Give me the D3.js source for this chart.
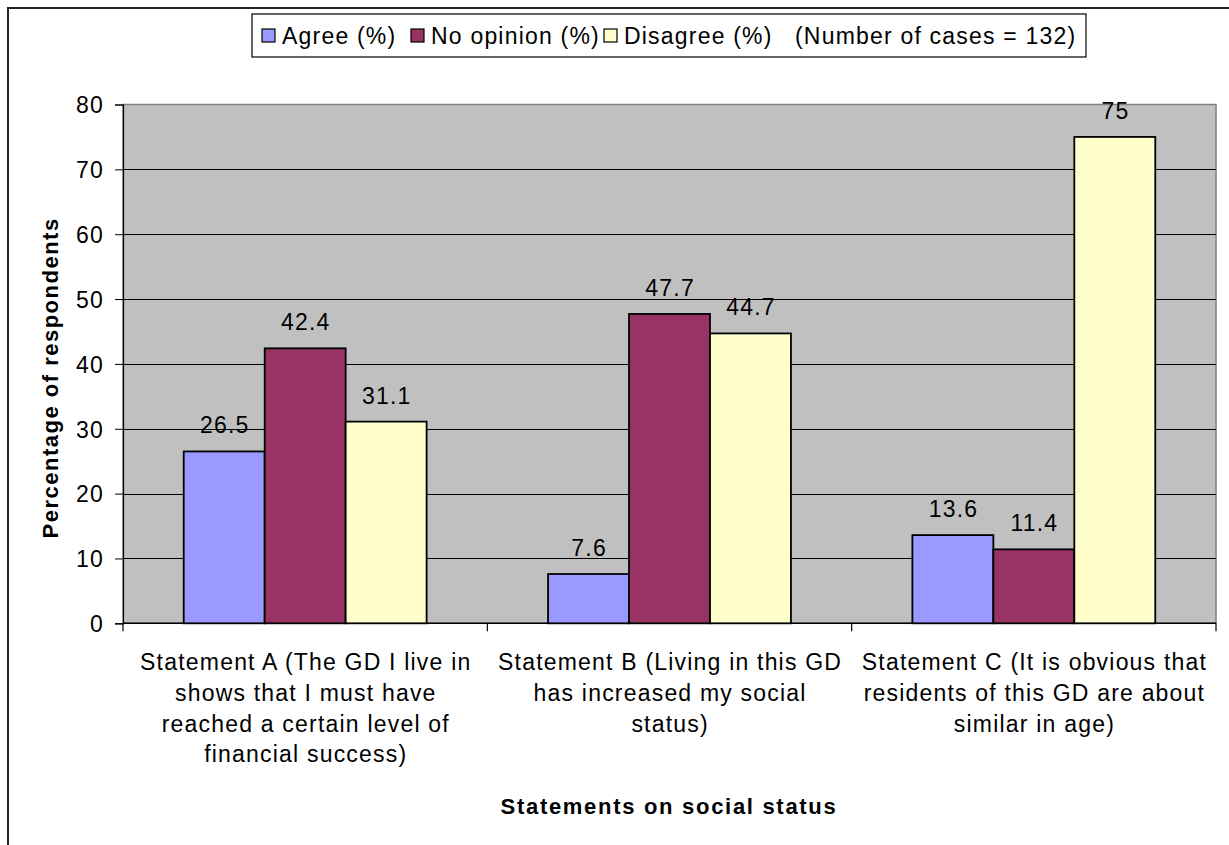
<!DOCTYPE html>
<html>
<head>
<meta charset="utf-8">
<script src="https://cdn.jsdelivr.net/npm/d3@7"></script>
<style>
  html, body { margin: 0; padding: 0; background: #fff; }
  svg { display: block; }
  text { font-family: Arial, "Liberation Sans", sans-serif; fill: #000; }
</style>
</head>
<body>
<svg id="chart" width="1229" height="845"></svg>
<script>
// Survey responses on social status statements (Number of cases = 132)
const categories = ["Statement A", "Statement B", "Statement C"];
const categoryLabels = [
  ["Statement A (The GD I live in", "shows that I must have", "reached a certain level of", "financial success)"],
  ["Statement B (Living in this GD", "has increased my social", "status)"],
  ["Statement C (It is obvious that", "residents of this GD are about", "similar in age)"]
];
const seriesNames = ["Agree (%)", "No opinion (%)", "Disagree (%)"];
const agree = [26.5, 7.6, 13.6];
const noOpinion = [42.4, 47.7, 11.4];
const disagree = [31.1, 44.7, 75];
const yTicks = [0, 10, 20, 30, 40, 50, 60, 70, 80];
const legendNote = "(Number of cases = 132)";
const yTitle = "Percentage of respondents";
const xTitle = "Statements on social status";

const seriesValues = [agree, noOpinion, disagree];
const colors = ["#9999FF", "#993366", "#FFFFCC"];

const FS = "23px", LS = "1.2px";

const svg = d3.select("#chart");

// outer chart frame
svg.append("rect")
  .attr("x", 8).attr("y", 8)
  .attr("width", 1240).attr("height", 860)
  .attr("fill", "none").attr("stroke", "#222").attr("stroke-width", 2);

const plot = { left: 123, right: 1216, top: 104.5, bottom: 623.3 };

const x = d3.scaleBand().domain(categories).range([plot.left, plot.right]).padding(0);
const xs = d3.scaleBand().domain(seriesNames).range([0, x.bandwidth()])
  .paddingInner(0).paddingOuter(0.75);
const y = d3.scaleLinear().domain([0, 80]).range([plot.bottom, plot.top]);

// plot background
svg.append("rect")
  .attr("x", plot.left).attr("y", plot.top)
  .attr("width", plot.right - plot.left).attr("height", plot.bottom - plot.top)
  .attr("fill", "#C0C0C0").attr("stroke", "#808080").attr("stroke-width", 1.5);

// horizontal gridlines
svg.append("g").selectAll("line")
  .data(yTicks.filter(t => t > 0 && t < 80))
  .join("line")
  .attr("x1", plot.left).attr("x2", plot.right)
  .attr("y1", d => Math.round(y(d)) + 0.5).attr("y2", d => Math.round(y(d)) + 0.5)
  .attr("stroke", "#000").attr("stroke-width", 1);

// y axis
const yAxis = d3.axisLeft(y).tickValues(yTicks).tickSize(8).tickPadding(11).tickFormat(d3.format("d"));
const yg = svg.append("g").attr("transform", `translate(${plot.left},0)`).call(yAxis);
yg.select(".domain").attr("stroke", "#000").attr("stroke-width", 1.2);
yg.selectAll(".tick line").attr("stroke", "#000");
yg.selectAll(".tick text")
  .style("font-size", FS).style("letter-spacing", LS)
  .attr("dy", "0.36em");

// x axis (ticks at category boundaries)
const boundaries = [plot.left].concat(categories.map(c => x(c) + x.bandwidth()));
svg.append("line")
  .attr("x1", plot.left).attr("x2", plot.right)
  .attr("y1", plot.bottom).attr("y2", plot.bottom)
  .attr("stroke", "#000").attr("stroke-width", 1.5);
svg.append("g").selectAll("line")
  .data(boundaries)
  .join("line")
  .attr("x1", d => d).attr("x2", d => d)
  .attr("y1", plot.bottom).attr("y2", plot.bottom + 8)
  .attr("stroke", "#000").attr("stroke-width", 1.2);

// bars
const groups = svg.append("g").selectAll("g")
  .data(categories)
  .join("g")
  .attr("transform", c => `translate(${x(c)},0)`);

groups.selectAll("rect")
  .data((c, i) => seriesNames.map((s, k) => ({ s, k, v: seriesValues[k][i] })))
  .join("rect")
  .attr("x", d => xs(d.s))
  .attr("y", d => y(d.v))
  .attr("width", xs.bandwidth())
  .attr("height", d => y(0) - y(d.v))
  .attr("fill", d => colors[d.k])
  .attr("stroke", "#000").attr("stroke-width", 1.8);

// value labels
groups.selectAll("text.val")
  .data((c, i) => seriesNames.map((s, k) => ({ s, k, v: seriesValues[k][i] })))
  .join("text")
  .attr("class", "val")
  .attr("x", d => xs(d.s) + xs.bandwidth() / 2 + 0.6)
  .attr("y", d => y(d.v) - 18)
  .attr("text-anchor", "middle")
  .style("font-size", FS).style("letter-spacing", LS)
  .text(d => d.v);

// category labels
categories.forEach((c, i) => {
  const t = svg.append("text")
    .attr("text-anchor", "middle")
    .style("font-size", FS).style("letter-spacing", LS);
  categoryLabels[i].forEach((line, j) => {
    t.append("tspan")
      .attr("x", x(c) + x.bandwidth() / 2 + 0.6)
      .attr("y", 670 + j * 30.8)
      .text(line);
  });
});

// axis titles
svg.append("text")
  .attr("transform", `translate(58,${(plot.top + plot.bottom) / 2 + 14}) rotate(-90)`)
  .attr("text-anchor", "middle")
  .style("font-size", "22px").style("font-weight", "bold").style("letter-spacing", "1.5px")
  .text(yTitle);

svg.append("text")
  .attr("x", 669).attr("y", 814)
  .attr("text-anchor", "middle")
  .style("font-size", "22px").style("font-weight", "bold").style("letter-spacing", "1.7px")
  .text(xTitle);

// legend
const legend = svg.append("g");
legend.append("rect")
  .attr("x", 252).attr("y", 14).attr("width", 834).attr("height", 43)
  .attr("fill", "#fff").attr("stroke", "#000").attr("stroke-width", 1.2);

const legendX = [262, 411, 604];
seriesNames.forEach((s, k) => {
  legend.append("rect")
    .attr("x", legendX[k]).attr("y", 29).attr("width", 13).attr("height", 13)
    .attr("fill", colors[k]).attr("stroke", "#000").attr("stroke-width", 1.2);
  legend.append("text")
    .attr("x", legendX[k] + 20).attr("y", 44)
    .style("font-size", FS).style("letter-spacing", LS)
    .text(s);
});
legend.append("text")
  .attr("x", 795).attr("y", 44)
  .style("font-size", FS).style("letter-spacing", LS)
  .text(legendNote);
</script>
</body>
</html>
